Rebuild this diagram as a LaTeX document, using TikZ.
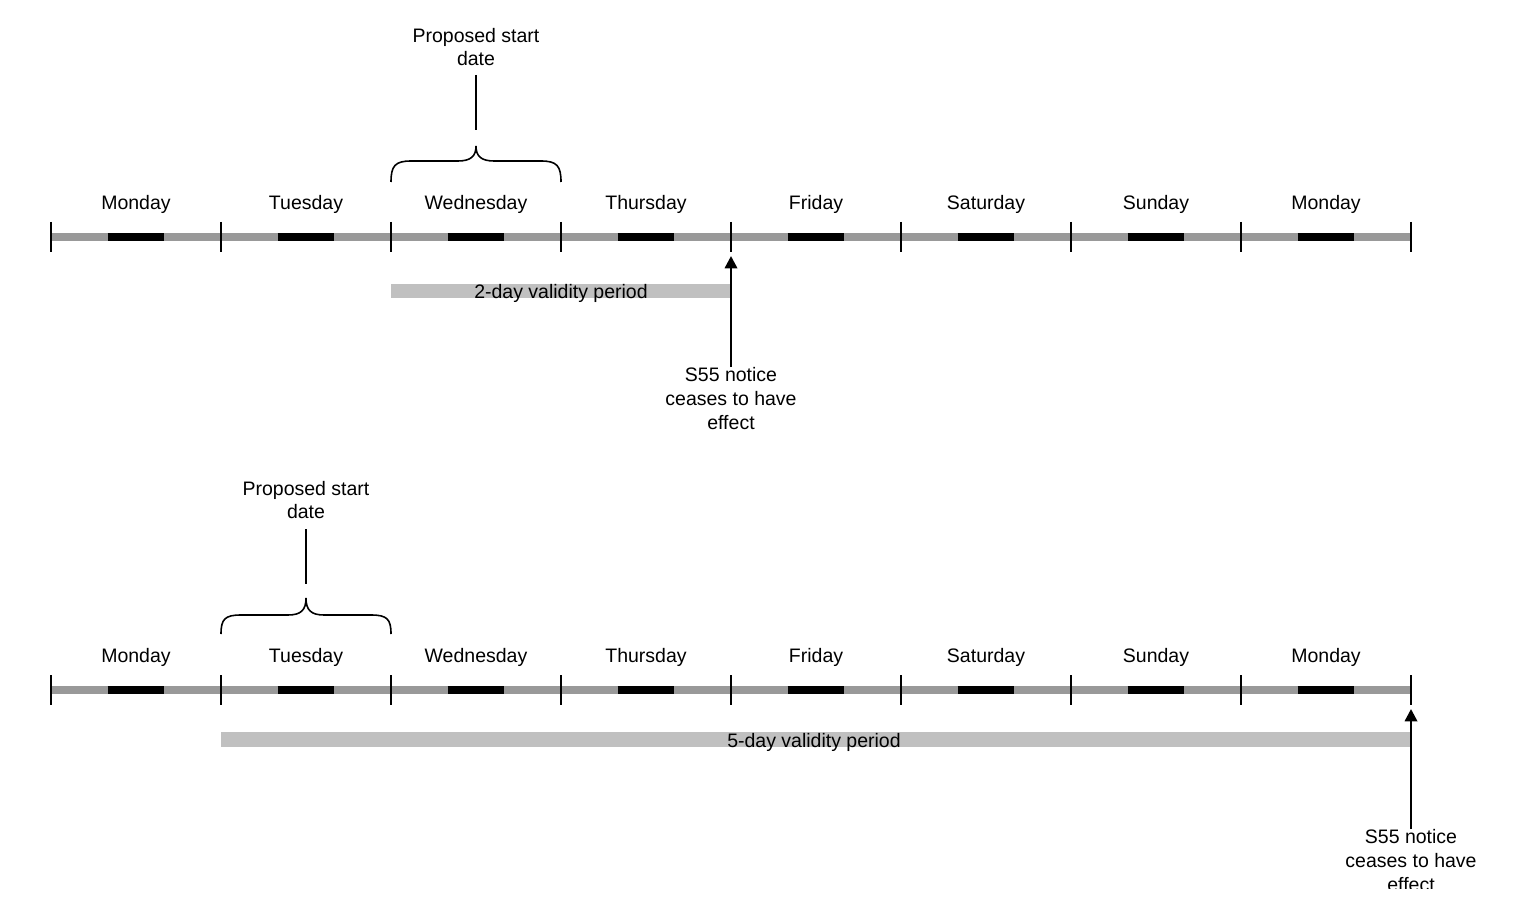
\documentclass[tikz,border=0pt]{standalone}
\usepackage{fontspec}
\setmainfont{Liberation Sans}
\usetikzlibrary{arrows.meta}
\definecolor{linegray}{HTML}{999999}
\definecolor{bargray}{HTML}{C0C0C0}
\begin{document}
\begin{tikzpicture}[x=0.02cm,y=-0.02cm,
  txt/.style={font=\fontsize{11.1}{13.6}\selectfont, align=center, inner sep=0pt},
  axisline/.style={linegray, line width=4pt},
  daybar/.style={black, line width=4pt},
  tick/.style={black, line width=1.1pt},
  vbar/.style={fill=bargray, draw=none},
  bracepath/.style={black, line width=0.9pt},
  leader/.style={black, line width=0.9pt},
  ptr/.style={black, line width=1.4pt, -{Triangle[length=7pt,width=7pt]}}]
\useasboundingbox (0,0) rectangle (1517,902);
\fill[white] (0,0) rectangle (1517,902);
\begin{scope}
\clip (0,0) rectangle (1517,888);
% ---------- timelines ----------
\foreach \r/\Y in {a/237, b/690}{
  \draw[axisline] (51,\Y) -- (1411,\Y);
  \foreach \i in {0,...,7}{
    \draw[daybar] (51+170*\i+56.67,\Y) -- (51+170*\i+113.33,\Y);
  }
  \foreach \i in {0,...,8}{
    \draw[tick] (51+170*\i,\Y-15) -- (51+170*\i,\Y+15);
  }
  \foreach \d [count=\i from 0] in {Monday,Tuesday,Wednesday,Thursday,Friday,Saturday,Sunday,Monday}{
    \node[txt] (\r day\i) at (136+170*\i,\Y-33) {\d};
  }
}
% ---------- top diagram ----------
\node[txt] (ps1) at (476,47) {Proposed start\\date};
\coordinate (b1tip) at (476,146);
\coordinate (b1top) at (476,130);
\draw[leader] (476,75) -- (b1top);
\draw[bracepath] (391,182) .. controls (391,166) and (395,161) .. (411,161)
  -- (458,161) .. controls (471,161) and (476,156) .. (b1tip)
  .. controls (476,156) and (481,161) .. (494,161)
  -- (541,161) .. controls (557,161) and (561,166) .. (561,182);
\fill[bargray] (391,284) rectangle (731,298);
\node[txt] (v1) at (561,293) {2-day validity period};
\node[txt, anchor=north] (n1) at (731,367) {S55 notice\\ceases to have\\effect};
\coordinate (a1end) at (731,256);
\draw[ptr] (n1.north) -- (a1end);
% ---------- bottom diagram ----------
\node[txt] (ps2) at (306,500) {Proposed start\\date};
\coordinate (b2tip) at (306,598);
\coordinate (b2top) at (306,584);
\draw[leader] (306,529) -- (b2top);
\draw[bracepath] (221,634) .. controls (221,619) and (225,615) .. (241,615)
  -- (288,615) .. controls (301,615) and (306,610) .. (b2tip)
  .. controls (306,610) and (311,615) .. (324,615)
  -- (371,615) .. controls (387,615) and (391,619) .. (391,634);
\fill[bargray] (221,732) rectangle (1411,747);
\node[txt] (v2) at (814,742) {5-day validity period};
\node[txt, anchor=north] (n2) at (1411,829) {S55 notice\\ceases to have\\effect};
\coordinate (a2end) at (1411,709);
\draw[ptr] (n2.north) -- (a2end);
\end{scope}
\end{tikzpicture}
\end{document}
